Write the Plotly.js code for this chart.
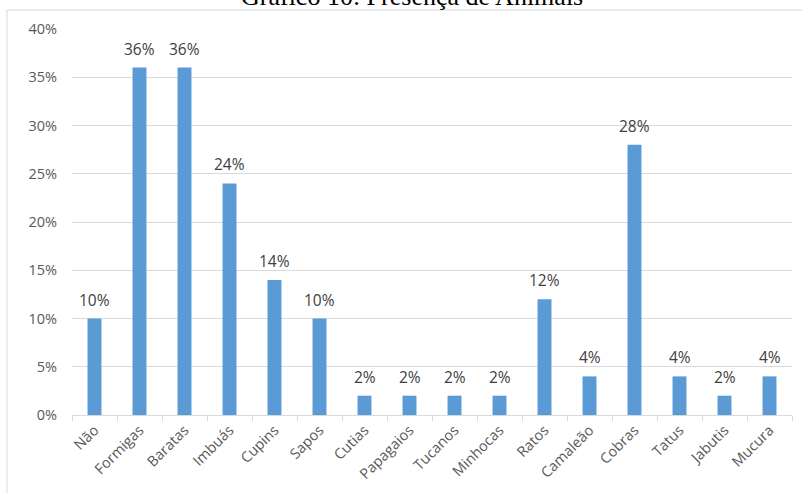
<!DOCTYPE html>
<html>
<head>
<meta charset="utf-8">
<script src="https://cdn.plot.ly/plotly-3.0.1.min.js"></script>
<style>
  html, body { margin: 0; padding: 0; background: #ffffff; }
  #chart { width: 802px; height: 493px; }
</style>
</head>
<body>
<div id="chart"></div>
<script>
// Presença de animais (percentual de respostas)
const categorias = ["Não", "Formigas", "Baratas", "Imbuás", "Cupins", "Sapos", "Cutias", "Papagaios",
                    "Tucanos", "Minhocas", "Ratos", "Camaleão", "Cobras", "Tatus", "Jabutis", "Mucura"];
const percentuais = [10, 36, 36, 24, 14, 10, 2, 2, 2, 2, 12, 4, 28, 4, 2, 4];
const tituloGrafico = "Gráfico 10: Presença de Animais";

const fonteBase = "'Open Sans', 'Noto Sans', 'Liberation Sans', sans-serif";

const trace = {
  type: "bar",
  x: categorias,
  y: percentuais,
  marker: { color: "#5b9bd5" },
  hoverinfo: "skip"
};

// value labels above each bar, placed at the bar's own value
const rotulos = categorias.map((c, i) => ({
  x: c,
  y: percentuais[i],
  xref: "x", yref: "y",
  text: percentuais[i] + "%",
  showarrow: false,
  xanchor: "center",
  yanchor: "bottom",
  yshift: 6,
  font: { family: fonteBase, size: 15.5, color: "#404040" }
}));

const layout = {
  width: 802,
  height: 493,
  margin: { l: 72, r: 10, t: 29, b: 78 },
  paper_bgcolor: "#ffffff",
  plot_bgcolor: "#ffffff",
  bargap: 0.69,
  showlegend: false,
  xaxis: {
    type: "category",
    tickangle: -45,
    tickfont: { family: fonteBase, size: 14.5, color: "#595959" },
    showline: true,
    linecolor: "#d9d9d9",
    linewidth: 1,
    ticks: "outside",
    tickson: "boundaries",
    ticklen: 5,
    tickcolor: "#d9d9d9",
    showgrid: false,
    zeroline: false
  },
  yaxis: {
    range: [0, 40],
    dtick: 5,
    ticksuffix: "%",
    tickfont: { family: fonteBase, size: 14.5, color: "#595959" },
    showgrid: true,
    gridcolor: "#d9d9d9",
    gridwidth: 1,
    zeroline: false,
    showline: false,
    ticks: "",
    ticklabelstandoff: 14
  },
  annotations: rotulos.concat([{
    // chart title above the framed chart area
    text: tituloGrafico,
    xref: "paper", yref: "paper",
    x: 0.4722, xanchor: "center",
    y: 1.0415, yanchor: "bottom",
    showarrow: false,
    font: { family: "'Liberation Serif', 'DejaVu Serif', serif", size: 26, color: "#000000" }
  }]),
  shapes: [{
    type: "rect",
    xref: "paper", yref: "paper",
    x0: -0.0903, x1: 1.05,
    y0: -0.25, y1: 1.0492,
    line: { color: "#d9d9d9", width: 1 },
    fillcolor: "rgba(0,0,0,0)",
    layer: "below"
  }]
};

Plotly.newPlot("chart", [trace], layout, { displayModeBar: false, staticPlot: true });
</script>
</body>
</html>
